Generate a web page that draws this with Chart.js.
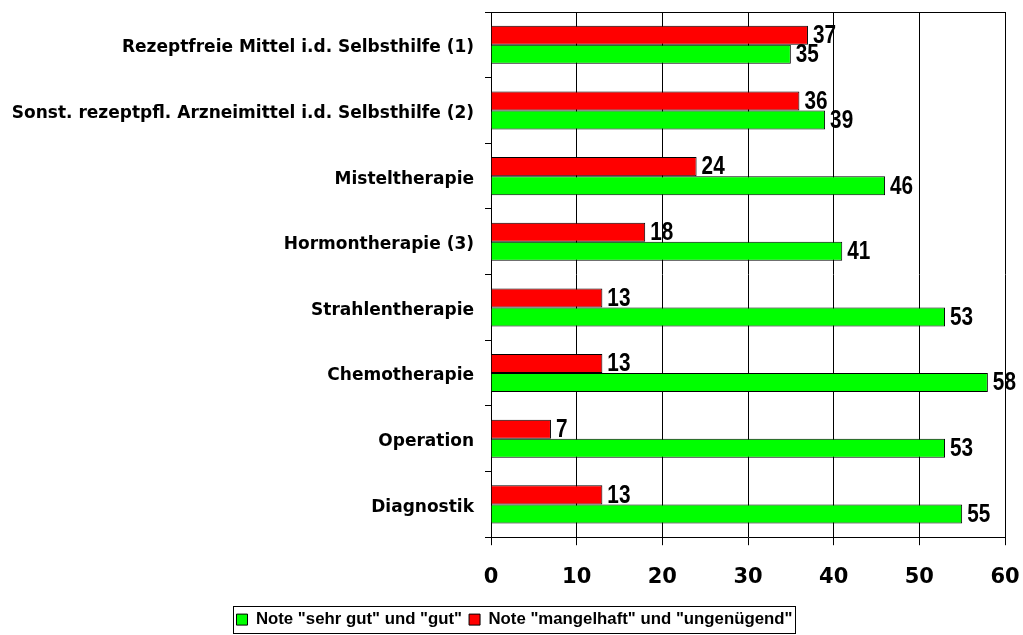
<!DOCTYPE html>
<html>
<head>
<meta charset="utf-8">
<script src="https://cdn.jsdelivr.net/npm/chart.js"></script>
<style>
  html, body { margin: 0; padding: 0; background: #fff; }
  #wrap { width: 1023px; height: 635px; position: relative; }
</style>
</head>
<body>
<div id="wrap"><canvas id="chart"></canvas></div>
<script>
// chart data
const categories = [
  'Rezeptfreie Mittel i.d. Selbsthilfe (1)',
  'Sonst. rezeptpfl. Arzneimittel i.d. Selbsthilfe (2)',
  'Misteltherapie',
  'Hormontherapie (3)',
  'Strahlentherapie',
  'Chemotherapie',
  'Operation',
  'Diagnostik'
];
const badValues = [37, 36, 24, 18, 13, 13, 7, 13];
const goodValues = [35, 39, 46, 41, 53, 58, 53, 55];
const xTicks = [0, 10, 20, 30, 40, 50, 60];

const labelFont = '"DejaVu Sans", Verdana, sans-serif';

// value labels next to the bar ends (narrowed Arial-like bold)
const valueLabels = {
  id: 'valueLabels',
  afterDatasetsDraw(chart) {
    const ctx = chart.ctx;
    const squeeze = 0.83;
    ctx.save();
    ctx.font = 'bold 25px "Liberation Sans", Arial, sans-serif';
    ctx.fillStyle = '#000';
    ctx.textAlign = 'left';
    ctx.textBaseline = 'middle';
    chart.data.datasets.forEach((ds, i) => {
      chart.getDatasetMeta(i).data.forEach((bar, j) => {
        ctx.save();
        ctx.translate(bar.x + 5, bar.y + 1);
        ctx.scale(squeeze, 1);
        ctx.fillText(ds.data[j], 0, 0);
        ctx.restore();
      });
    });
    ctx.restore();
  }
};

// nudge the legend a little right and down, like the original
const legendShift = {
  id: 'legendShift',
  afterLayout(chart) {
    const lg = chart.legend;
    lg.left += 12; lg.right += 12;
    lg.top += 3; lg.bottom += 3;
  }
};

// top border of plot area + frame round the legend
const frames = {
  id: 'frames',
  afterDraw(chart) {
    const ctx = chart.ctx;
    const a = chart.chartArea;
    ctx.save();
    ctx.strokeStyle = '#000';
    ctx.lineWidth = 1;
    ctx.beginPath();
    ctx.moveTo(a.left, Math.round(a.top) + 0.5);
    ctx.lineTo(a.right, Math.round(a.top) + 0.5);
    ctx.stroke();

    const boxes = chart.legend.legendHitBoxes;
    if (boxes && boxes.length) {
      let l = Infinity, r = -Infinity, t = Infinity, b = -Infinity;
      boxes.forEach(h => {
        l = Math.min(l, h.left); r = Math.max(r, h.left + h.width);
        t = Math.min(t, h.top); b = Math.max(b, h.top + h.height);
      });
      ctx.strokeRect(Math.round(l - 4) + 0.5, Math.round(t - 5) + 0.5,
                     Math.round(r - l + 6), Math.round(b - t + 10));
    }
    ctx.restore();
  }
};

new Chart(document.getElementById('chart'), {
  type: 'bar',
  data: {
    labels: categories,
    datasets: [
      {
        label: 'Note "mangelhaft" und "ungenügend"',
        data: badValues,
        backgroundColor: '#ff0000',
        borderColor: '#000',
        borderWidth: 1,
        categoryPercentage: 0.58,
        barPercentage: 1
      },
      {
        label: 'Note "sehr gut" und "gut"',
        data: goodValues,
        backgroundColor: '#00ff00',
        borderColor: '#000',
        borderWidth: 1,
        categoryPercentage: 0.58,
        barPercentage: 1
      }
    ]
  },
  options: {
    indexAxis: 'y',
    responsive: true,
    maintainAspectRatio: false,
    animation: false,
    layout: { padding: { top: 12, right: 18, left: 0, bottom: 0 } },
    scales: {
      x: {
        min: 0,
        max: 60,
        afterBuildTicks: s => { s.ticks = xTicks.map(v => ({ value: v })); },
        grid: { color: '#000', lineWidth: 1, tickLength: 8 },
        border: { color: '#000', width: 1 },
        ticks: {
          color: '#000',
          padding: 20,
          font: { family: labelFont, weight: 'bold', size: 21 }
        },
        afterFit: s => {
          s.height = 64;
          s.paddingLeft = 0;
          s.paddingRight = 0;
        }
      },
      y: {
        grid: { offset: true, drawOnChartArea: false, color: '#000', tickLength: 6 },
        border: { color: '#000', width: 1 },
        ticks: {
          color: '#000',
          padding: 11,
          labelOffset: 3,
          font: { family: labelFont, weight: 'bold', size: 17 }
        },
        afterFit: s => {
          s.width = 491;
          s.paddingTop = 0;
          s.paddingBottom = 0;
        }
      }
    },
    plugins: {
      legend: {
        position: 'bottom',
        reverse: true,
        labels: {
          color: '#000',
          boxWidth: 11,
          boxHeight: 11,
          padding: 7,
          font: { family: '"Liberation Sans", Arial, sans-serif', weight: 'bold', size: 16.8 }
        }
      },
      tooltip: { enabled: false }
    }
  },
  plugins: [legendShift, valueLabels, frames]
});
</script>
</body>
</html>
